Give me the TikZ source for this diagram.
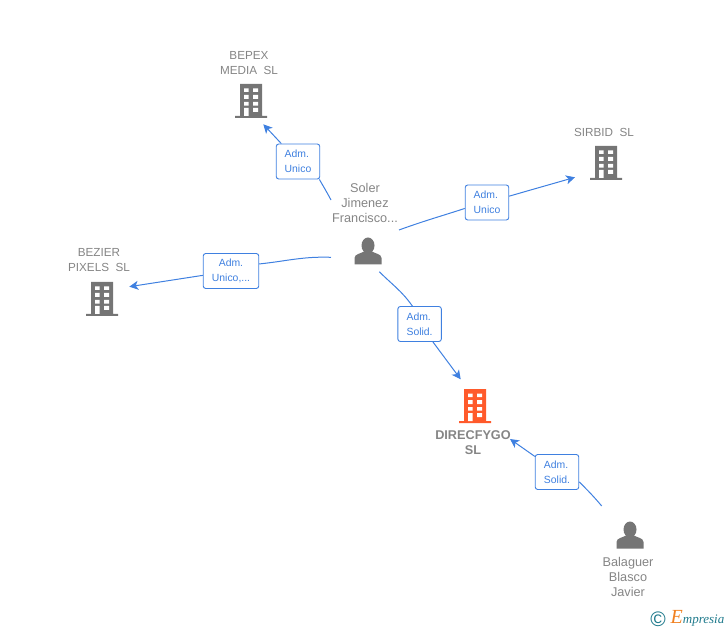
\documentclass[tikz,border=0pt]{standalone}
\usepackage{fontspec}
\setmainfont{Liberation Sans}
\newfontfamily\logofont{Liberation Serif}
\usetikzlibrary{arrows.meta}
\definecolor{linkblue}{HTML}{3F80E0}
\definecolor{iconback}{HTML}{757575}
\definecolor{nametext}{HTML}{858585}
\definecolor{mainorange}{HTML}{FF5A2B}
\definecolor{logoteal}{HTML}{1F7A8C}
\definecolor{logoorange}{HTML}{F08020}
\tikzset{
  firmname/.style={text=nametext,align=center,font=\fontsize{11.7}{15}\selectfont,inner sep=0pt},
  personname/.style={firmname,font=\fontsize{12.7}{15}\selectfont},
  badge/.style={draw=linkblue,line width=0.9pt,fill=white,rounded corners=2.5pt,text=linkblue,
    align=left,font=\fontsize{10.4}{15}\selectfont,minimum height=35pt,minimum width=43.5pt,inner sep=0pt},
  link/.style={draw=linkblue,line width=1pt},
  linkarrow/.style={link,-{Stealth[length=9pt,width=9pt,inset=2.5pt]}},
  pics/building/.style={code={
    \fill[#1] (-11,17) rectangle (11,-15) (-16,-15) rectangle (16,-17);
    \fill[white] (-7,12.5) rectangle (-2.5,9) (2,12.5) rectangle (7,9)
      (-7,6) rectangle (-2.5,2) (2,6) rectangle (7,2)
      (-7,-1) rectangle (-2.5,-4.7) (2,-1) rectangle (7,-4.7)
      (-7,-7) rectangle (-2.5,-15) (2,-7) rectangle (7,-11);
  }},
  pics/person/.style={code={
    \fill[iconback] (0,5.5) ellipse (6.5 and 8);
    \fill[iconback] (-13.5,-13.5) -- (-13.5,-7) .. controls (-13.5,-3) and (-7,-2.5) .. (-4,-0.5)
      -- (4,-0.5) .. controls (7,-2.5) and (13.5,-3) .. (13.5,-7) -- (13.5,-13.5) -- cycle;
  }}
}
\begin{document}
\begin{tikzpicture}[x=1pt,y=1pt]
  \useasboundingbox (0,0) rectangle (728,630);
  % companies and people
  \pic at (251,529) {building=iconback};
  \node (bepex) at (249,566.5) [firmname] {BEPEX\\MEDIA\ \ SL};
  \pic at (606,467) {building=iconback};
  \node (sirbid) at (604,498) [firmname] {SIRBID\ \ SL};
  \pic at (102,331) {building=iconback};
  \node (bezier) at (99,369.5) [firmname] {BEZIER\\PIXELS\ \ SL};
  \pic at (475,224) {building=mainorange};
  \node (direcfygo) at (473,187.5) [firmname,font=\fontsize{12.7}{15}\selectfont\bfseries] {DIRECFYGO\\SL};
  \pic at (368,379) {person};
  \node (soler) at (365,427) [personname] {Soler\\Jimenez\\Francisco...};
  \pic at (630,95) {person};
  \node (balaguer) at (628,53) [personname] {Balaguer\\Blasco\\Javier};
  % role boxes
  \node (admbepex) at (298,468.5) [badge] {Adm.\\Unico};
  \node (admsirbid) at (487,427.5) [badge] {Adm.\\Unico};
  \node (admbezier) at (231,359) [badge,align=center,minimum width=55.5pt] {Adm.\\Unico,...};
  \node (admdirec) at (419.6,306) [badge] {Adm.\\Solid.};
  \node (admbalag) at (557,158) [badge] {Adm.\\Solid.};
  % free ends of the connectors
  \coordinate (solerup) at (331,430);
  \coordinate (solerright) at (399,400);
  \coordinate (solerleft) at (331,372.7);
  \coordinate (solerdown) at (379.3,358.3);
  \coordinate (balagup) at (601.7,124);
  \coordinate (bepexin) at (263.3,505.7);
  \coordinate (sirbidin) at (575,452.7);
  \coordinate (bezierin) at (129.3,343.3);
  \coordinate (direcin) at (460.7,250.7);
  \coordinate (direcin2) at (510,191);
  \draw [link] (solerup) to [out=118,in=-60] (admbepex.-40);
  \draw [linkarrow] (admbepex) -- (bepexin);
  \draw [link] (solerright) to [out=20,in=198] (admsirbid.195);
  \draw [linkarrow] (admsirbid) -- (sirbidin);
  \draw [link] (solerleft) to [out=178,in=6] (admbezier.14);
  \draw [linkarrow] (admbezier) -- (bezierin);
  \draw [link] (solerdown) to [out=-45,in=125] (admdirec.112);
  \draw [linkarrow] (admdirec) -- (direcin);
  \draw [link] (balagup) to [out=130,in=-45] (admbalag.-24);
  \draw [linkarrow] (admbalag) -- (direcin2);
  % logo
  \node (copyr) at (658,11) [text=logoteal,font=\fontsize{21}{21}\selectfont,inner sep=0pt] {©};
  \node (empresia) at (697.5,12) [inner sep=0pt,font=\logofont\itshape\fontsize{13}{13}\selectfont,text=logoteal]
    {{\color{logoorange}\fontsize{20}{20}\selectfont E}mpresia};
\end{tikzpicture}
\end{document}
